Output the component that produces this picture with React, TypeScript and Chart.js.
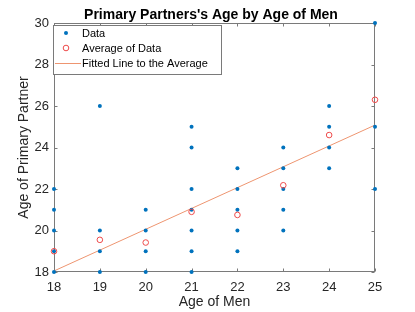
import { useEffect, useRef } from "react";
import { Chart, registerables } from "chart.js";

Chart.register(...registerables);

// Ages of men (x categories)
const menAges = [18, 19, 20, 21, 22, 23, 24, 25];
// Ages of primary partners observed for each age of men
const partnersAt18 = [18, 19, 20, 21, 22];
const partnersAt19 = [18, 19, 20, 26];
const partnersAt20 = [18, 19, 20, 21];
const partnersAt21 = [18, 19, 20, 21, 22, 24, 25];
const partnersAt22 = [19, 20, 21, 22, 23];
const partnersAt23 = [20, 21, 22, 23, 24];
const partnersAt24 = [23, 24, 25, 26];
const partnersAt25 = [22, 25, 30];
// Average partner age for each age of men
const averageAges = [19, 19.55, 19.42, 20.9, 20.75, 22.18, 24.6, 26.3];
// Fitted line endpoints
const fitX = [18, 25];
const fitY = [18.05, 25.08];
// Tick labels
const xTicks = [18, 19, 20, 21, 22, 23, 24, 25];
const yTicks = [18, 20, 22, 24, 26, 28, 30];

const TITLE = "Primary Partners's Age by Age of Men";
const X_TITLE = "Age of Men";
const Y_TITLE = "Age of Primary Partner";
const FONT = "'Liberation Sans', Arial, Helvetica, sans-serif";

const BLUE = "#0072BD";
const RED = "#EE4B4B";
const ORANGE = "#EE9570";
const AXIS = "#7a7a7a";
const TEXT = "#262626";

const groups = [
  partnersAt18,
  partnersAt19,
  partnersAt20,
  partnersAt21,
  partnersAt22,
  partnersAt23,
  partnersAt24,
  partnersAt25,
];

const overlay = {
  id: "overlay",
  beforeDatasetsDraw(chart: any) {
    const { ctx, chartArea: a, scales } = chart;
    const xs = scales.x;
    const ys = scales.y;
    ctx.save();
    ctx.strokeStyle = AXIS;
    ctx.lineWidth = 1;
    const L = Math.round(a.left) + 0.5;
    const R = Math.round(a.right) - 0.5;
    const T = Math.round(a.top) + 0.5;
    const B = Math.round(a.bottom) - 0.5;
    ctx.strokeRect(L, T, R - L, B - T);
    const tl = 3;
    ctx.beginPath();
    xTicks.forEach((v) => {
      const px = Math.round(xs.getPixelForValue(v)) + 0.5;
      ctx.moveTo(px, B);
      ctx.lineTo(px, B - tl);
      ctx.moveTo(px, T);
      ctx.lineTo(px, T + tl);
    });
    yTicks.forEach((v) => {
      const py = Math.round(ys.getPixelForValue(v)) + 0.5;
      ctx.moveTo(L, py);
      ctx.lineTo(L + tl, py);
      ctx.moveTo(R, py);
      ctx.lineTo(R - tl, py);
    });
    ctx.stroke();
    ctx.restore();
  },
  afterDraw(chart: any) {
    const { ctx, chartArea: a } = chart;
    ctx.save();
    // Title
    ctx.fillStyle = "#000";
    ctx.font = `bold 14px ${FONT}`;
    ctx.textAlign = "center";
    ctx.textBaseline = "middle";
    ctx.fillText(TITLE, 211, 15);
    // Axis titles
    ctx.fillStyle = TEXT;
    ctx.font = `14px ${FONT}`;
    ctx.fillText(X_TITLE, (a.left + a.right) / 2, 302);
    ctx.save();
    ctx.translate(24, (a.top + a.bottom) / 2);
    ctx.rotate(-Math.PI / 2);
    ctx.fillText(Y_TITLE, 0, 0);
    ctx.restore();

    // Legend box
    const bx = 53.5, by = 25.5, bw = 168, bh = 49;
    ctx.fillStyle = "#fff";
    ctx.fillRect(bx, by, bw, bh);
    ctx.strokeStyle = AXIS;
    ctx.lineWidth = 1;
    ctx.strokeRect(bx, by, bw, bh);
    ctx.font = `11px ${FONT}`;
    ctx.textAlign = "left";
    ctx.textBaseline = "middle";
    ctx.fillStyle = "#000";
    const tx = 82;
    const rows = [33, 48, 63];
    const labels = chart.data.datasets.map((d: any) => d.label);
    // Data symbol
    ctx.fillStyle = BLUE;
    ctx.beginPath();
    ctx.arc(66, rows[0], 2, 0, Math.PI * 2);
    ctx.fill();
    // Average symbol
    ctx.strokeStyle = RED;
    ctx.beginPath();
    ctx.arc(66, rows[1], 2.8, 0, Math.PI * 2);
    ctx.stroke();
    // Fit line
    ctx.strokeStyle = ORANGE;
    ctx.beginPath();
    ctx.moveTo(55, rows[2] + 0.5);
    ctx.lineTo(81, rows[2] + 0.5);
    ctx.stroke();
    ctx.fillStyle = "#000";
    labels.forEach((t: string, i: number) => ctx.fillText(t, tx, rows[i] + 0.5));
    ctx.restore();
  },
};

export default function App() {
  const ref = useRef<HTMLCanvasElement | null>(null);
  useEffect(() => {
    if (!ref.current) return;
    const scatterPts: { x: number; y: number }[] = [];
    menAges.forEach((age, i) => groups[i].forEach((p) => scatterPts.push({ x: age, y: p })));
    const avgPts = menAges.map((age, i) => ({ x: age, y: averageAges[i] }));
    const fitPts = fitX.map((x, i) => ({ x, y: fitY[i] }));
    const chart = new Chart(ref.current, {
      type: "scatter",
      data: {
        datasets: [
          {
            label: "Data",
            data: scatterPts,
            backgroundColor: BLUE,
            borderColor: BLUE,
            pointRadius: 2,
            borderWidth: 0,
            clip: false,
            order: 2,
          } as any,
          {
            label: "Average of Data",
            data: avgPts,
            backgroundColor: "rgba(0,0,0,0)",
            borderColor: RED,
            pointRadius: 2.8,
            borderWidth: 1,
            clip: false,
            order: 1,
          } as any,
          {
            label: "Fitted Line to the Average",
            type: "line",
            data: fitPts,
            borderColor: ORANGE,
            borderWidth: 1,
            pointRadius: 0,
            showLine: true,
            fill: false,
            clip: false,
            order: 3,
          } as any,
        ],
      },
      options: {
        responsive: false,
        animation: false,
        devicePixelRatio: 1,
        layout: { padding: { top: 23, right: 40, left: 0, bottom: 0 } },
        plugins: {
          legend: { display: false },
          title: { display: false },
          tooltip: { enabled: false },
        },
        scales: {
          x: {
            type: "linear",
            min: 18,
            max: 25,
            afterFit: (s: any) => {
              s.height = 40;
            },
            afterBuildTicks: (s: any) => {
              s.ticks = xTicks.map((v) => ({ value: v }));
            },
            grid: { display: false, drawTicks: false },
            border: { display: false },
            ticks: {
              padding: 8,
              color: TEXT,
              font: { family: FONT, size: 13 },
              maxRotation: 0,
            },
          },
          y: {
            type: "linear",
            min: 18,
            max: 30,
            afterFit: (s: any) => {
              s.width = 54;
            },
            afterBuildTicks: (s: any) => {
              s.ticks = yTicks.map((v) => ({ value: v }));
            },
            grid: { display: false, drawTicks: false },
            border: { display: false },
            ticks: {
              padding: 5,
              color: TEXT,
              font: { family: FONT, size: 13 },
            },
          },
        },
      } as any,
      plugins: [overlay],
    });
    return () => chart.destroy();
  }, []);
  return (
    <div style={{ position: "absolute", left: 0, top: 0, width: 415, height: 312, background: "#fff" }}>
      <canvas ref={ref} width={415} height={312} style={{ width: 415, height: 312, display: "block" }} />
    </div>
  );
}
